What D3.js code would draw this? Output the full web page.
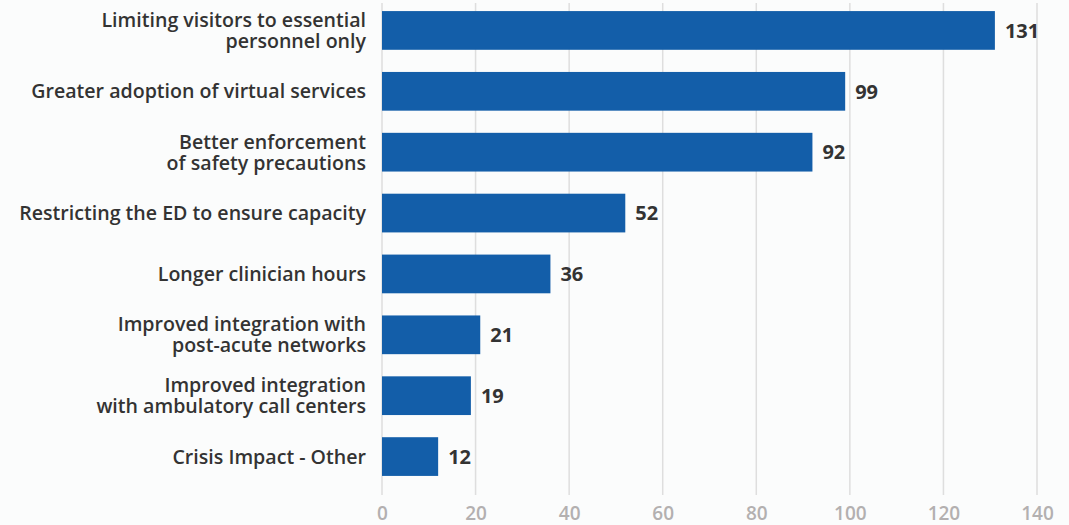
<!DOCTYPE html>
<html>
<head>
<meta charset="utf-8">
<script src="https://cdn.jsdelivr.net/npm/d3@7"></script>
<style>
  body { margin: 0; background: #fbfcfc; }
  svg { display: block; font-family: "Open Sans", Lato, sans-serif; }
</style>
</head>
<body>
<svg id="plot" width="1069" height="525"></svg>
<script>
let categories = [
  ["Limiting visitors to essential", "personnel only"],
  ["Greater adoption of virtual services"],
  ["Better enforcement", "of safety precautions"],
  ["Restricting the ED to ensure capacity"],
  ["Longer clinician hours"],
  ["Improved integration with", "post-acute networks"],
  ["Improved integration", "with ambulatory call centers"],
  ["Crisis Impact - Other"]
]
let values = [131, 99, 92, 52, 36, 21, 19, 12]
let tick_values = [0, 20, 40, 60, 80, 100, 120, 140]

let svg = d3.select("#plot")
let margin_left = 382, plot_right = 1037, plot_top = 0, plot_bottom = 487
let label_x = 366, cat_size = 19.6

let idx = d3.range(values.length)

let x_scale = d3.scaleLinear([0, 140], [margin_left, plot_right])
let y_scale = d3.scaleBand(idx, [plot_top, plot_bottom]).paddingInner(0.364).paddingOuter(0.182)

// gridlines
svg.append("g")
  .selectAll("line")
  .data(tick_values)
  .join("line")
  .attr("x1", d => x_scale(d))
  .attr("x2", d => x_scale(d))
  .attr("y1", 3)
  .attr("y2", 495)
  .attr("stroke", "#dedede")
  .attr("stroke-width", 1.5)

// axis
let gx = svg.append("g")
  .attr("transform", `translate(0,495)`)
  .call(d3.axisBottom(x_scale).tickValues(tick_values).tickSize(0).tickPadding(12))
gx.select(".domain").remove()
gx.selectAll("text")
  .attr("font-family", "'Open Sans', sans-serif")
  .attr("font-size", 19)
  .attr("font-weight", 600)
  .attr("fill", "#b3b0b0")

// bars
svg.append("g")
  .selectAll("rect")
  .data(idx)
  .join("rect")
  .attr("x", x_scale(0))
  .attr("y", i => y_scale(i))
  .attr("width", i => x_scale(values[i]) - x_scale(0))
  .attr("height", y_scale.bandwidth())
  .attr("fill", "#135ea9")

// value labels
svg.append("g")
  .selectAll("text")
  .data(idx)
  .join("text")
  .attr("x", i => x_scale(values[i]) + 10)
  .attr("y", i => y_scale(i) + y_scale.bandwidth() / 2)
  .attr("dy", "0.36em")
  .attr("font-size", 20)
  .attr("font-weight", 700)
  .attr("fill", "#333")
  .text(i => values[i])

// category labels
let cat = svg.append("g")
  .selectAll("text")
  .data(idx)
  .join("text")
  .attr("text-anchor", "end")
  .attr("font-size", cat_size)
  .attr("font-weight", 600)
  .attr("fill", "#333")
  .attr("x", label_x)
  .attr("y", i => y_scale(i) + y_scale.bandwidth() / 2)

cat.each(function(i) {
  let lines = categories[i]
  let t = d3.select(this)
  let lh = 21
  let start = -(lines.length - 1) * lh / 2
  lines.forEach((ln, k) => {
    t.append("tspan")
      .attr("x", label_x)
      .attr("dy", k == 0 ? (start / cat_size + 0.36) + "em" : lh + "px")
      .text(ln)
  })
})
</script>
</body>
</html>
